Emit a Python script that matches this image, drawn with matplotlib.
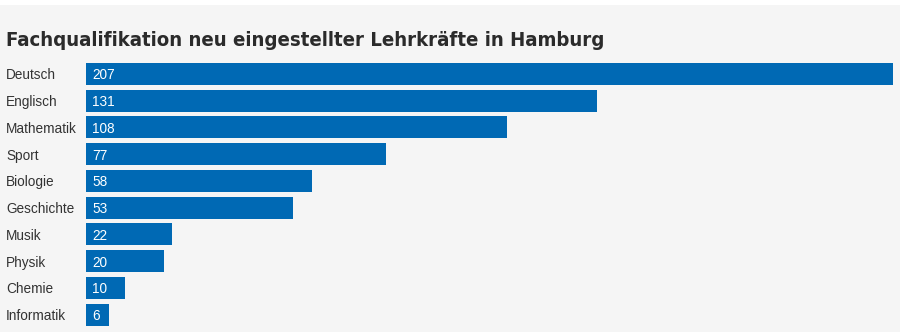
import matplotlib
matplotlib.use("Agg")
import matplotlib.pyplot as plt
from matplotlib.patches import Rectangle

# ------------------- data -------------------
subjects = ["Deutsch", "Englisch", "Mathematik", "Sport", "Biologie",
            "Geschichte", "Musik", "Physik", "Chemie", "Informatik"]
counts = [207, 131, 108, 77, 58, 53, 22, 20, 10, 6]

TITLE = "Fachqualifikation neu eingestellter Lehrkräfte in Hamburg"
C_BAR = "#0069b4"
C_BG = "#f5f5f5"

W, H = 900, 332
fig = plt.figure(figsize=(9, 3.32), dpi=100)
fig.patch.set_facecolor("white")
# grey panel below thin white strip at the top
fig.add_artist(Rectangle((0, 0), 1, 1 - 5 / H, transform=fig.transFigure,
                         facecolor=C_BG, edgecolor="none", zorder=0))

fig.text(6 / W, 1 - 40 / H, TITLE, family="DejaVu Sans", fontstretch="condensed",
         fontweight="bold", fontsize=14.6, color="#2b2b2b", va="center", ha="left")

ax = fig.add_axes([86 / W, 1 - 328 / H, (893 - 86) / W, (328 - 60.5) / H])
ax.set_facecolor("none")
ypos = list(range(len(subjects)))
ax.barh(ypos, counts, height=0.815, color=C_BAR, edgecolor="none")
ax.set_xlim(0, 207)
ax.set_ylim(len(subjects) - 0.5, -0.5)
ax.axis("off")

for y, name, v in zip(ypos, subjects, counts):
    ax.text(-80 / 3.9, y, name, ha="left", va="center_baseline", fontsize=9.8,
            family="Liberation Sans", color="#333333")
    ax.text(6 / 3.9, y, str(v), ha="left", va="center_baseline", fontsize=9.8,
            family="Liberation Sans", color="white")

fig.savefig("out.png", dpi=100, facecolor=fig.get_facecolor())
